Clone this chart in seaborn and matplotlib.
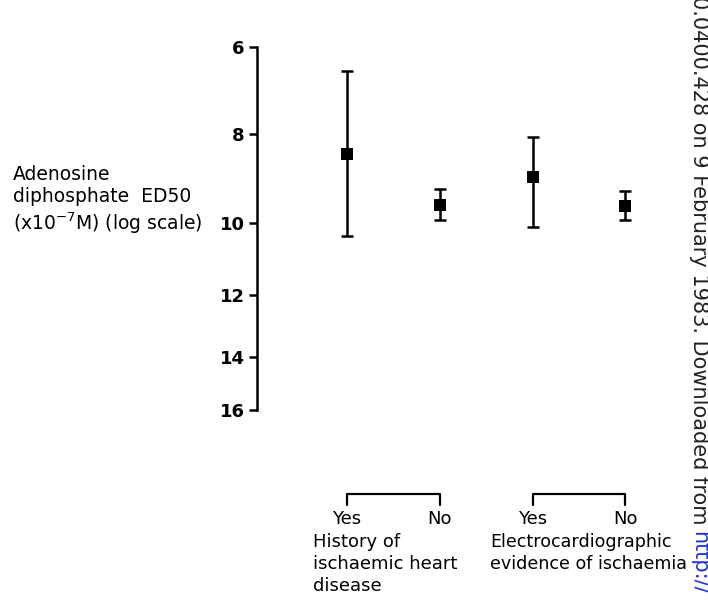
import numpy as np
import pandas as pd
import matplotlib
matplotlib.use("Agg")
import matplotlib.pyplot as plt
import matplotlib.transforms as mtransforms
import seaborn as sns

# ---- data ----
groups = ["History", "History", "ECG", "ECG"]
answers = ["Yes", "No", "Yes", "No"]
means = [8.41, 9.58, 8.93, 9.60]
lower = [6.49, 9.20, 8.06, 9.23]
upper = [10.35, 9.94, 10.12, 9.94]
yticks = [6, 8, 10, 12, 14, 16]
group_labels = ["History of\nischaemic heart\ndisease",
                "Electrocardiographic\nevidence of ischaemia"]
ylabel_lines = ["Adenosine", "diphosphate  ED50", r"(x10$^{-7}$M) (log scale)"]
watermark = "0.0400.428 on 9 February 1983. Downloaded from "
watermark_link = "http://"

df = pd.DataFrame({"group": groups, "answer": answers, "mean": means,
                   "lower": lower, "upper": upper})
df["pos"] = np.arange(len(df))

sns.set_theme(style="white")
plt.rcParams["font.family"] = ["DejaVu Sans"]

fig = plt.figure(figsize=(7.08, 6.0), dpi=100)
ax = fig.add_axes([257 / 708, 1 - 410 / 600, 451 / 708, (410 - 47) / 600])


# log scale as drawn in the original (segment 6-8 slightly stretched)
def fwd(v):
    v = np.asarray(v, dtype=float)
    l = np.log(np.clip(v, 1e-9, None) / 8.0)
    return np.where(l >= 0, l * 400.0, l * 302.0)


def inv(u):
    u = np.asarray(u, dtype=float)
    return np.where(u >= 0, 8.0 * np.exp(u / 400.0), 8.0 * np.exp(u / 302.0))


ax.set_yscale("function", functions=(fwd, inv))

ax.errorbar(df["pos"], df["mean"],
            yerr=[df["mean"] - df["lower"], df["upper"] - df["mean"]],
            fmt="none", ecolor="black", elinewidth=1.8, capsize=4.3,
            capthick=1.8, zorder=2)
sns.scatterplot(data=df, x="pos", y="mean", marker="s", s=85, color="black",
                edgecolor="black", linewidth=0, ax=ax, zorder=3, legend=False)

ax.set_ylim(16, 6)
ax.set_xlim(-0.97, 3.89)
ax.set_yticks(yticks)
ax.set_yticklabels([str(t) for t in yticks], fontsize=13, fontweight="bold")
ax.yaxis.set_minor_locator(matplotlib.ticker.NullLocator())
ax.set_xticks([])
ax.set_xlabel("")
ax.set_ylabel("")
for s in ["top", "right", "bottom"]:
    ax.spines[s].set_visible(False)
ax.spines["left"].set_linewidth(1.8)
ax.spines["left"].set_color("black")
ax.tick_params(axis="y", which="major", left=True, length=6, width=1.8,
               color="black", pad=3, labelcolor="black")
ax.patch.set_alpha(0)

# brackets and category labels below
trans = mtransforms.blended_transform_factory(ax.transData, fig.transFigure)
y_top = 1 - 494 / 600
y_bot = 1 - 505 / 600
for g in ["History", "ECG"]:
    sub = df[df["group"] == g]
    x0, x1 = sub["pos"].min(), sub["pos"].max()
    ax.plot([x0, x0, x1, x1], [y_bot, y_top, y_top, y_bot], color="black",
            lw=1.6, transform=trans, clip_on=False)
for _, r in df.iterrows():
    ax.text(r["pos"], 1 - 519 / 600, r["answer"], transform=trans,
            ha="center", va="center", fontsize=13, color="black")

fig.text(313 / 708, 1 - 533 / 600, group_labels[0], ha="left", va="top",
         fontsize=13, linespacing=1.3, color="black")
fig.text(490 / 708, 1 - 533 / 600, group_labels[1], ha="left", va="top",
         fontsize=12.6, linespacing=1.3, color="black")

# y label block
for line, yy in zip(ylabel_lines, [174, 196, 223]):
    fig.text(13 / 708, 1 - yy / 600, line, ha="left", va="center",
             fontsize=13.5, color="black")

# scanned-page watermark on right edge
t1 = fig.text(689 / 708, 1.0 + 4 / 600, watermark, rotation=270, ha="left",
              va="top", fontsize=15, color="#222222")
fig.canvas.draw()
bb = t1.get_window_extent(renderer=fig.canvas.get_renderer())
fig.text(689 / 708, bb.y0 / fig.bbox.height, watermark_link, rotation=270,
         ha="left", va="top", fontsize=15, color="#2233dd")

fig.savefig("out.png", dpi=100)
